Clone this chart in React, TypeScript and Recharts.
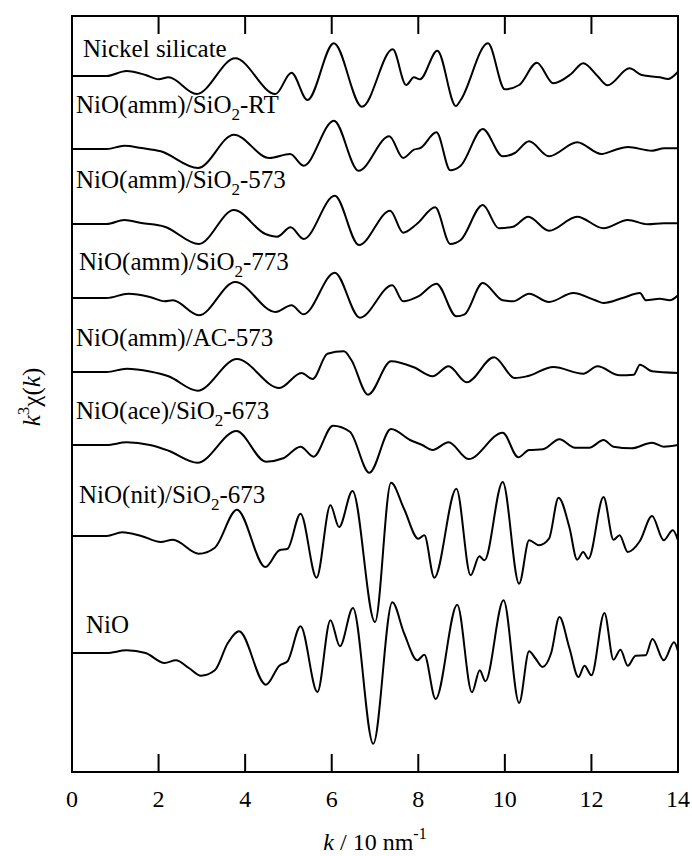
import React from 'react';
import { LineChart, Line, XAxis, YAxis } from 'recharts';

const kTicks = [0, 2, 4, 6, 8, 10, 12, 14];

// vertical offset of each trace, same order as traces below
const offsets = [696, 623, 548, 474, 400, 327, 236, 119];

// Nickel silicate
const silicateK = [0, 0.8, 1.26, 1.7, 2.0, 2.23, 2.88, 3.77, 4.7, 5.07, 5.44, 6.05, 6.7, 7.41, 7.72, 7.9, 8.04, 8.44, 8.87, 8.98, 9.61, 10.0, 10.33, 10.74, 11.12, 11.53, 11.81, 12.14, 12.37, 12.88, 13.16, 13.58, 13.77, 14.0];
const silicateV = [0, 0, 5, 1, -3.3, -1.3, -18, 17.7, -18, 3.3, -24, 32.7, -30.7, 26.7, -9, -1.3, -3.3, 25.3, -30, -24, 32.7, -13.3, -9, 13.3, -7.3, 2, 12.7, 0, -9.3, 7.7, 1, -1.3, -3, 4.3];

// NiO(amm)/SiO2-RT
const ammRtK = [0, 0.8, 1.21, 1.6, 2.05, 2.91, 3.74, 4.56, 5.04, 5.35, 6.05, 6.62, 7.33, 7.65, 7.9, 8.05, 8.42, 8.74, 8.98, 9.49, 9.95, 10.23, 10.56, 11.02, 11.67, 12.23, 12.56, 12.84, 13.4, 13.68, 14];
const ammRtV = [0, 0, 3.3, 1, -2.3, -19, 14.3, -9, -5, -16.7, 28.3, -21.7, 12.7, -9, -0.7, 1, 16.7, -21.3, -16.7, 20, -7.3, -4, 7.7, -7.3, 6.7, -5, -0.7, 2, -1.7, 0.7, 0.7];

// NiO(amm)/SiO2-573
const amm573K = [0, 0.8, 1.21, 1.6, 2.14, 2.93, 3.74, 4.47, 4.74, 5.05, 5.35, 6.07, 6.63, 7.35, 7.65, 7.96, 8.39, 8.74, 8.98, 9.49, 9.86, 10.19, 10.54, 11.02, 11.67, 12.28, 12.84, 13.3, 13.67, 14];
const amm573V = [0, 0, 4, 1, -2.7, -20, 14, -10, -12.7, -3.3, -15, 28.3, -21, 13.3, -8.7, -0.3, 16.7, -20, -16, 19, -4.3, -2.7, 7.3, -6.7, 7.3, -4.3, 4, -0.3, 0.7, 0.7];

// NiO(amm)/SiO2-773
const amm773K = [0, 0.8, 1.3, 1.8, 2.14, 2.33, 2.93, 3.77, 4.7, 5.07, 5.35, 6.07, 6.65, 7.4, 7.65, 8.0, 8.42, 8.88, 9.07, 9.49, 9.95, 10.19, 10.56, 11.02, 11.58, 12.09, 12.28, 12.74, 13.12, 13.26, 13.58, 13.81, 14];
const amm773V = [0, 0, 4.3, 1, -3.3, -2.3, -17.3, 16, -14, -7.3, -16.3, 25.3, -19.7, 12.7, -3.3, 1.7, 14.3, -18.3, -16.3, 15, -2.3, -3.3, 4.3, -4, 5, -2.3, -5, 0.3, 5, -2.3, -0.7, -2.3, 2.7];

// NiO(amm)/AC-573
const ammAcK = [0, 0.8, 1.26, 1.8, 2.23, 2.9, 3.81, 4.79, 5.3, 5.56, 5.9, 6.28, 6.45, 6.84, 7.37, 7.9, 8.33, 8.7, 9.12, 9.75, 10.23, 10.51, 11.12, 11.81, 12.14, 12.65, 12.98, 13.12, 13.4, 14];
const ammAcV = [0, 0, 3.3, 0.5, -4.3, -18.7, 13, -16, -1, -7, 18.3, 20.7, 12.3, -22.7, 10.7, 4.7, -4.3, 5.7, -10.3, 14.7, -6, -4.3, 5, -1.7, 5.7, -3.3, -2.7, 7.3, 0.7, -1];

// NiO(ace)/SiO2-673
const aceK = [0, 0.8, 1.26, 1.8, 2.23, 2.9, 3.8, 4.48, 4.88, 5.28, 5.58, 6.03, 6.42, 6.87, 7.37, 7.81, 8.09, 8.33, 8.7, 9.16, 9.95, 10.31, 10.56, 10.88, 11.26, 11.62, 11.95, 12.28, 12.51, 12.93, 13.4, 13.67, 14];
const aceV = [0, 0, 2.7, 0, -5.7, -17.7, 14, -16.7, -13.3, -1.7, -11.7, 19.3, 13.3, -27.7, 16, 5, 0, -5, 2.7, -14, 12.3, -12.3, -5, -4.3, 5.7, -2.7, -2.7, 5, -1.7, -3.3, 2.3, -1.7, 0];

// NiO(nit)/SiO2-673
const nitK = [0, 0.8, 1.16, 1.6, 2.05, 2.33, 2.93, 3.3, 3.81, 4.47, 4.79, 4.98, 5.28, 5.65, 5.97, 6.17, 6.48, 7.0, 7.37, 7.67, 8.0, 8.14, 8.37, 8.88, 9.21, 9.41, 9.53, 9.95, 10.33, 10.56, 10.79, 11.02, 11.24, 11.49, 11.67, 11.81, 11.93, 12.28, 12.51, 12.65, 12.84, 13.12, 13.4, 13.67, 13.88, 14];
const nitV = [0, 0, 3.7, 0, -6, -3.7, -17.7, -11.7, 26.3, -31, -14.3, -12.7, 22.3, -41.7, 30.7, 9, 45, -86, 53.3, 27.3, -2.7, 0.7, -41.7, 47.3, -39.3, -20.3, -24.3, 54, -47.7, -4.3, -9.3, -2.7, 38.3, 9, -23.7, -16, -22.7, 39, -3.7, 0.7, -16, -5, 20, -4.3, 5.7, -4.3];

// NiO
const nioK = [0, 0.8, 1.26, 1.7, 2.14, 2.4, 2.7, 2.98, 3.3, 3.6, 3.86, 4.48, 4.79, 4.98, 5.28, 5.67, 5.97, 6.19, 6.49, 6.96, 7.4, 7.67, 7.98, 8.14, 8.4, 8.9, 9.24, 9.42, 9.55, 9.97, 10.33, 10.56, 10.7, 10.87, 11.07, 11.26, 11.49, 11.7, 11.84, 12.0, 12.3, 12.51, 12.67, 12.84, 13.02, 13.25, 13.41, 13.67, 13.91, 14];
const nioV = [0, 0, 2.7, 0, -10, -7.3, -15, -22.7, -17.3, 10, 21.7, -31.7, -12.7, -8.3, 26.7, -39, 32.7, 6.7, 45, -90.7, 50.7, 20, -7.3, -1.7, -46, 48.3, -39.3, -17.3, -28.3, 52.7, -50, 1.7, -5, -14, 0, 36, 5, -24, -12.7, -22.3, 40, -6.7, 3.3, -12.7, -2.7, -2.3, 14, -7.3, 10.7, 1.7];

// sample names: text, subscript, text after
const names = [
  ['Nickel silicate', '', ''],
  ['NiO(amm)/SiO', '2', '-RT'],
  ['NiO(amm)/SiO', '2', '-573'],
  ['NiO(amm)/SiO', '2', '-773'],
  ['NiO(amm)/AC-573', '', ''],
  ['NiO(ace)/SiO', '2', '-673'],
  ['NiO(nit)/SiO', '2', '-673'],
  ['NiO', '', ''],
];

const traces = [
  [silicateK, silicateV],
  [ammRtK, ammRtV],
  [amm573K, amm573V],
  [amm773K, amm773V],
  [ammAcK, ammAcV],
  [aceK, aceV],
  [nitK, nitV],
  [nioK, nioV],
];

// where the names sit (left x, text baseline)
const namePos = [
  [83, 57], [76, 113], [76, 188], [79, 270], [76, 346], [76, 419], [79, 503], [86, 633],
];

const FONT = "'Liberation Serif', 'Times New Roman', serif";
const PLOT_TOP = 16;
const PLOT_BOTTOM = 772;
const PLOT_LEFT = 72;
const PLOT_RIGHT = 678;
const TICK_LEN = 18;
const txt = { fontFamily: FONT, fill: '#000' };
const axisLine = { stroke: '#000', strokeWidth: 2 };

const BottomTick = (props: any) => {
  const { x, payload } = props;
  return (
    <g>
      <line x1={x} x2={x} y1={PLOT_BOTTOM} y2={PLOT_BOTTOM - TICK_LEN} stroke="#000" strokeWidth={2} />
      <text x={x} y={807} textAnchor="middle" style={{ ...txt, fontSize: 24 }}>
        {payload.value}
      </text>
    </g>
  );
};

export default function App() {
  return (
    <div style={{ position: 'absolute', left: 0, top: 0, width: 692, height: 856, background: '#fff', fontFamily: FONT }}>
      <LineChart
        width={692}
        height={856}
        margin={{ top: PLOT_TOP, right: 692 - PLOT_RIGHT - 1, bottom: 0, left: PLOT_LEFT - 1 }}
      >
        <XAxis
          xAxisId="b"
          type="number"
          dataKey="k"
          domain={[0, 14]}
          ticks={kTicks}
          interval={0}
          orientation="bottom"
          height={856 - PLOT_BOTTOM}
          axisLine={axisLine}
          tickLine={false}
          tick={(p: any) => <BottomTick {...p} />}
          allowDataOverflow
        />
        <YAxis yAxisId="l" type="number" domain={[0, 756]} width={1} axisLine={axisLine} tick={false} tickLine={false} allowDataOverflow />
        <YAxis yAxisId="r" orientation="right" type="number" domain={[0, 756]} width={1} axisLine={axisLine} tick={false} tickLine={false} allowDataOverflow />
        {traces.map(([ks, vs], j) => (
          <Line
            key={j}
            xAxisId="b"
            yAxisId="l"
            data={ks.map((k, i) => ({ k, y: offsets[j] + vs[i] }))}
            dataKey="y"
            type="monotone"
            stroke="#000"
            strokeWidth={2}
            dot={false}
            activeDot={false}
            isAnimationActive={false}
          />
        ))}
      </LineChart>

      {/* frame, top ticks and all the text */}
      <svg width={692} height={856} style={{ position: 'absolute', left: 0, top: 0, pointerEvents: 'none' }}>
        <rect
          x={PLOT_LEFT}
          y={PLOT_TOP}
          width={PLOT_RIGHT - PLOT_LEFT}
          height={PLOT_BOTTOM - PLOT_TOP}
          fill="none"
          stroke="#000"
          strokeWidth={2}
        />
        {kTicks.slice(1, -1).map((t) => {
          const x = PLOT_LEFT + ((PLOT_RIGHT - PLOT_LEFT) * t) / 14;
          return <line key={t} x1={x} x2={x} y1={PLOT_TOP} y2={PLOT_TOP + TICK_LEN} stroke="#000" strokeWidth={2} />;
        })}
        {names.map(([pre, sub, post], j) => (
          <text key={j} x={namePos[j][0]} y={namePos[j][1]} style={{ ...txt, fontSize: 25 }}>
            {pre}
            {sub && (
              <tspan style={{ fontSize: 17 }} dy={7}>
                {sub}
              </tspan>
            )}
            {sub && <tspan dy={-7}>{post}</tspan>}
          </text>
        ))}
        <text x={375} y={850} textAnchor="middle" style={{ ...txt, fontSize: 24 }}>
          <tspan style={{ fontStyle: 'italic' }}>k</tspan>
          {' / 10 nm'}
          <tspan style={{ fontSize: 16 }} dy={-11}>-1</tspan>
        </text>
        <text transform="translate(40,397) rotate(-90)" textAnchor="middle" style={{ ...txt, fontSize: 25 }}>
          <tspan style={{ fontStyle: 'italic' }}>k</tspan>
          <tspan style={{ fontSize: 17 }} dy={-11}>3</tspan>
          <tspan dy={11}>χ(</tspan>
          <tspan style={{ fontStyle: 'italic' }}>k</tspan>
          <tspan>)</tspan>
        </text>
      </svg>
    </div>
  );
}
